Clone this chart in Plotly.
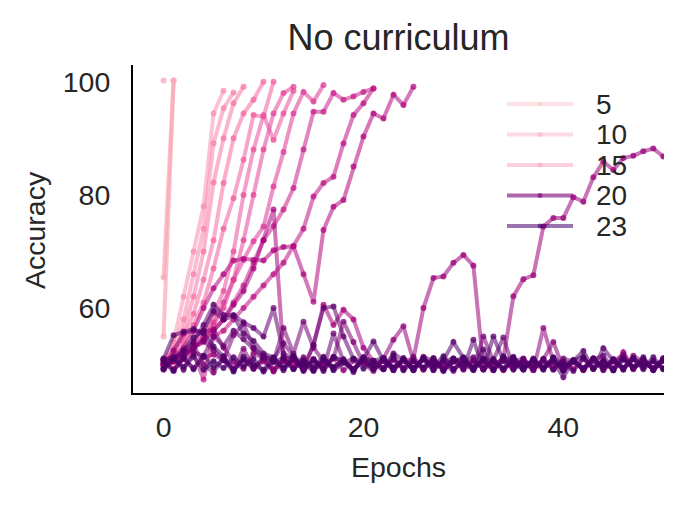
import plotly.graph_objects as go

# accuracy per epoch (list index = epoch), one list per training run
run_a = [55.0, 100.2]
run_b = [65.4, 100.2]
run_c = [100.2]
run_p1 = [50.5, 54.0, 62.0, 70.0, 78.0, 94.4, 98.4]
run_p2 = [49.8, 53.0, 58.0, 66.0, 74.0, 89.1, 95.3, 98.1]
run_p3 = [50.2, 52.0, 56.0, 62.0, 70.0, 82.2, 90.0, 96.2, 99.1]
run_p4 = [51.0, 52.5, 55.0, 59.0, 65.0, 72.0, 82.1, 90.0, 94.4, 96.8, 100.0]
run_p5 = [50.0, 51.5, 54.0, 57.0, 61.0, 67.0, 74.0, 79.4, 86.2, 94.1, 93.8, 100.0]
run_p6 = [50.0, 51.0, 52.0, 54.0, 56.0, 59.0, 63.0, 70.0, 80.0, 88.0, 94.1, 89.7, 94.4, 98.4]
run_p7 = [50.3, 50.8, 52.0, 53.0, 55.0, 57.0, 60.0, 65.0, 72.0, 80.0, 88.0, 94.4, 98.0, 99.1]
run_l1 = [50.0, 50.5, 51.5, 53.0, 55.0, 57.5, 61.0, 65.0, 68.5, 71.8, 74.4, 81.5, 87.6,
          94.4, 98.2, 96.5, 99.4]
run_l2 = [50.0, 51.0, 52.0, 53.0, 54.0, 56.0, 58.0, 61.0, 64.0, 68.0, 72.0, 74.5, 77.4,
          81.2, 88.0, 94.7, 94.7, 98.0, 96.8, 97.4, 98.2, 98.8]
run_l3 = [50.0, 50.5, 51.0, 52.0, 47.4, 55.0, 56.0, 58.0, 60.0, 62.0, 64.0, 66.0, 68.0,
          71.0, 74.0, 79.7, 82.1, 83.2, 89.1, 94.1, 96.2, 98.8]
run_hump = [50.0, 51.5, 53.0, 56.0, 60.0, 63.5, 66.0, 68.4, 68.7, 68.5, 68.4, 70.2, 70.8,
            70.9, 66.0, 61.1, 73.8, 77.9, 79.1, 85.0, 90.3, 94.4, 93.5, 97.7, 95.9, 99.1]
run_spike = [50.0, 50.6, 51.5, 53.0, 54.5, 56.0, 58.0, 60.6, 63.0, 67.0, 72.0, 77.4, 51.5,
             50.3, 49.3, 53.5, 60.6, 57.0, 59.7, 58.0, 53.0, 50.6, 49.4, 50.9, 49.2, 50.7,
             49.3, 51.0, 49.1, 50.6, 50.9, 49.4, 50.8, 49.2, 51.0, 49.3, 50.7, 49.1, 50.9,
             49.4, 50.6, 49.2, 51.1, 49.3, 50.8, 49.0, 52.2, 49.4, 50.7, 49.2, 50.9, 49.3]
run_long = [50.7, 49.2, 51.0, 49.4, 51.3, 51.8, 50.8, 49.1, 50.9, 49.3, 50.6, 49.0, 51.1,
            49.4, 50.8, 49.2, 50.7, 49.3, 51.0, 49.1, 50.8, 49.4, 51.2, 49.1, 50.7, 51.0,
            60.0, 65.3, 65.6, 68.0, 69.4, 67.5, 49.4, 50.0, 51.0, 62.1, 65.1, 65.8, 74.4,
            75.9, 75.9, 79.6, 78.8, 83.1, 85.9, 84.4, 86.5, 86.9, 87.7, 88.2, 86.8, 86.0]
run_m2 = [49.4, 52.5, 55.5, 56.0, 55.8, 56.2, 53.0, 50.5, 49.3, 52.0, 51.1, 49.2, 50.8,
          51.5, 49.1, 50.9, 49.4, 51.2, 49.0, 50.7, 50.5, 49.3, 51.1, 54.4, 56.8, 50.6,
          49.2, 51.0, 49.4, 50.8, 49.1, 50.7, 49.3, 50.9, 49.2, 50.6, 51.1, 49.0, 56.5,
          50.5, 49.3, 50.8, 49.1, 50.7, 49.4, 51.0, 49.2, 51.6, 50.5, 49.3, 50.9, 49.1]
run_m3 = [50.9, 49.0, 51.2, 53.5, 50.1, 48.6, 51.4, 49.2, 52.8, 49.5, 51.0, 48.8, 50.6,
          49.3, 51.3, 49.0, 50.4, 51.1, 57.6, 54.0, 50.2, 48.9, 51.0, 49.4, 50.8, 49.1,
          51.2, 49.6, 50.3, 48.9, 51.0, 49.5, 50.7, 49.0, 51.3, 49.4, 50.5, 49.1, 51.0,
          54.0, 49.3, 50.8, 49.0, 51.1, 49.5, 50.6, 51.8, 49.2, 50.9, 49.4, 51.2, 49.0]
run_f5 = [49.1, 50.9, 51.8, 53.0, 54.2, 52.6, 50.8, 55.2, 57.2, 53.0, 51.2, 50.5, 56.5,
          52.0, 57.6, 53.0, 50.6, 49.4, 50.8, 49.1, 51.3, 50.7, 49.2, 50.9, 49.4, 51.4,
          49.1, 50.8, 49.3, 51.0, 50.5, 49.2, 55.0, 50.6, 49.0, 50.9, 49.4, 51.1, 49.3,
          50.7, 49.1, 50.8, 49.4, 51.0, 49.2, 50.6, 51.2, 49.3, 50.9, 49.1, 50.7, 49.4]
run_f4 = [50.8, 51.4, 49.1, 52.2, 51.5, 55.0, 53.3, 56.0, 54.5, 52.8, 51.6, 50.9, 53.8,
          51.5, 49.2, 51.0, 49.3, 55.5, 50.6, 49.1, 51.2, 50.5, 49.3, 52.0, 50.8, 49.0,
          51.1, 49.4, 50.9, 49.2, 50.7, 51.3, 49.1, 50.8, 54.8, 49.4, 51.0, 49.3, 50.6,
          49.1, 51.1, 50.5, 49.2, 50.9, 51.6, 49.3, 51.5, 49.4, 50.8, 49.1, 51.0, 50.5]
run_f3 = [49.3, 51.2, 52.5, 54.0, 57.0, 60.6, 58.8, 58.8, 57.5, 56.5, 55.0, 60.0, 52.0,
          51.0, 49.4, 53.5, 60.0, 60.3, 55.0, 51.0, 50.7, 49.2, 51.1, 49.3, 50.9, 49.1,
          51.4, 50.6, 49.0, 51.1, 49.4, 50.8, 49.2, 51.0, 49.3, 50.7, 49.1, 50.9, 49.4,
          50.5, 47.8, 50.6, 49.3, 51.1, 49.0, 50.8, 49.4, 51.0, 49.2, 50.7, 49.3, 50.9]
run_f6 = [50.9, 51.0, 52.5, 54.8, 56.0, 59.5, 58.0, 58.6, 55.5, 54.2, 52.0, 51.3, 49.4,
          51.0, 48.9, 50.8, 49.2, 51.4, 50.6, 49.1, 51.0, 49.3, 50.7, 49.0, 51.2, 49.4,
          50.9, 49.1, 50.6, 51.1, 49.3, 54.4, 49.2, 55.0, 50.7, 49.1, 50.8, 49.4, 51.0,
          49.2, 50.5, 48.9, 51.1, 49.3, 50.7, 49.0, 50.9, 49.4, 50.6, 49.2, 51.0, 50.5]
run_f2 = [51.1, 55.2, 55.8, 56.3, 55.5, 53.2, 51.5, 49.1, 50.9, 49.3, 51.4, 50.7, 49.0,
          51.2, 49.4, 50.8, 48.9, 51.3, 50.6, 49.2, 51.0, 54.1, 50.7, 49.1, 50.9, 49.4,
          51.1, 49.0, 50.8, 54.0, 51.2, 49.3, 52.7, 49.1, 50.7, 51.4, 49.2, 50.8, 49.4,
          51.0, 48.9, 50.6, 52.4, 49.3, 52.9, 50.7, 49.1, 51.0, 49.4, 51.3, 49.2, 50.8]
run_f1 = [50.4, 48.9, 51.3, 49.2, 51.6, 49.5, 50.9, 48.8, 51.4, 50.0, 49.1, 51.2, 49.4,
          51.5, 50.2, 48.9, 51.1, 49.6, 50.8, 48.7, 51.3, 49.9, 49.2, 51.6, 49.0, 50.7,
          49.5, 51.2, 48.9, 50.5, 51.3, 49.3, 51.0, 49.1, 51.5, 50.1, 49.2, 50.9, 49.5,
          51.2, 49.0, 50.7, 51.4, 49.3, 50.6, 49.1, 51.0, 49.6, 51.3, 49.0, 50.8, 50.2]
run_f7 = [49.3, 51.0, 49.6, 51.4, 49.1, 50.6, 49.4, 51.3, 49.7, 51.0, 48.8, 50.5, 51.2,
          49.2, 50.8, 49.6, 51.4, 49.0, 50.3, 51.1, 49.3, 50.7, 51.2, 49.5, 50.9, 49.1,
          51.0, 49.8, 51.5, 49.2, 50.4, 49.0, 51.1, 50.6, 49.3, 51.2, 49.7, 50.4, 49.1,
          51.3, 49.9, 50.8, 49.2, 51.1, 49.6, 50.9, 49.4, 51.2, 49.8, 50.6, 49.3, 51.0]

runs = [run_a, run_b, run_c, run_p1, run_p2, run_p3, run_p4, run_p5, run_p6, run_p7,
        run_l1, run_l2, run_l3, run_hump, run_spike, run_long, run_m2, run_m3,
        run_f5, run_f4, run_f3, run_f6, run_f2, run_f1, run_f7]
hues = [1, 1, 1, 3, 4, 5, 6, 7, 8, 9,
        10, 12, 13, 14, 15, 16, 17, 18,
        19, 20, 21, 22, 22, 23, 23]

legend_labels = ["5", "10", "15", "20", "23"]
legend_colors = [(251, 185, 190), (250, 165, 185), (248, 150, 180), (122, 1, 119), (73, 0, 106)]
legend_alpha = [0.4, 0.42, 0.45, 0.6, 0.55]

# RdPu anchors
RDPU = [(255, 247, 243), (253, 224, 221), (252, 197, 192), (250, 159, 181), (247, 104, 161),
        (221, 52, 151), (174, 1, 126), (122, 1, 119), (73, 0, 106)]
TEXT = "#262626"
FONT = "Liberation Sans, Arial, sans-serif"

# plot area in pixels (matches the reference)
L, R, T, B = 133, 664, 65, 393
W, H = 686, 506


def hue_rgb(h):
    t = 0.35 + 0.65 * (h - 1) / 22
    pos = t * (len(RDPU) - 1)
    i = min(int(pos), len(RDPU) - 2)
    f = pos - i
    c0, c1 = RDPU[i], RDPU[i + 1]
    return tuple(int(round(c0[k] + (c1[k] - c0[k]) * f)) for k in range(3))


def px_x(x):
    return (x - L) / (R - L)


def px_y(y):
    return (B - y) / (B - T)


fig = go.Figure()

for vals, h in zip(runs, hues):
    r, g, b = hue_rgb(h)
    a = 0.7 if h == 1 else 0.55
    fig.add_trace(go.Scatter(
        x=list(range(len(vals))), y=vals, mode="lines+markers",
        line=dict(color=f"rgba({r},{g},{b},{a})", width=4),
        marker=dict(color=f"rgba({r},{g},{b},0.75)", size=6, line=dict(width=0)),
        showlegend=False, hoverinfo="skip",
    ))

# legend drawn by hand (line + dot + label)
shapes = []
annotations = []
for i, (lab, c, a) in enumerate(zip(legend_labels, legend_colors, legend_alpha)):
    yp = px_y(104 + i * 30.5)
    col = f"rgba({c[0]},{c[1]},{c[2]},{a})"
    shapes.append(dict(type="line", xref="paper", yref="paper", x0=px_x(507), x1=px_x(573),
                       y0=yp, y1=yp, line=dict(color=col, width=4), layer="above"))
    shapes.append(dict(type="circle", xref="paper", yref="paper",
                       x0=px_x(537.5), x1=px_x(542.5), y0=yp - 2.5 / (B - T), y1=yp + 2.5 / (B - T),
                       fillcolor=col, line=dict(width=0), layer="above"))
    annotations.append(dict(text=lab, xref="paper", yref="paper", x=px_x(594), y=yp,
                            xanchor="left", yanchor="middle", showarrow=False,
                            font=dict(size=28, color=TEXT, family=FONT)))

# axis titles
annotations.append(dict(text="Epochs", xref="paper", yref="paper", x=0.5, y=px_y(467),
                        xanchor="center", yanchor="middle", showarrow=False,
                        font=dict(size=28.5, color=TEXT, family=FONT)))
annotations.append(dict(text="Accuracy", xref="paper", yref="paper", x=px_x(35), y=px_y(230),
                        xanchor="center", yanchor="middle", showarrow=False, textangle=-90,
                        font=dict(size=28.5, color=TEXT, family=FONT)))

fig.update_layout(
    width=W, height=H,
    margin=dict(l=L, r=W - R, t=T, b=H - B),
    paper_bgcolor="white", plot_bgcolor="white",
    font=dict(family=FONT, size=28.5, color=TEXT),
    title=dict(text="No curriculum", x=0.5, xref="paper", y=1 - 37 / H, yref="container",
               xanchor="center", yanchor="middle", font=dict(size=36, color=TEXT)),
    shapes=shapes, annotations=annotations,
)
fig.update_xaxes(range=[-3.06, 50.07], tickvals=[0, 20, 40], showgrid=False, zeroline=False,
                 showline=True, linecolor="black", linewidth=2, automargin=False,
                 ticks="outside", ticklen=8, tickcolor="rgba(0,0,0,0)")
fig.update_yaxes(range=[45.0, 102.95], tickvals=[60, 80, 100], showgrid=False, zeroline=False,
                 showline=True, linecolor="black", linewidth=2, automargin=False,
                 ticks="outside", ticklen=15, tickcolor="rgba(0,0,0,0)")

# the page body has a default 8px margin, drop it so the figure sits at (0, 0)
fig.write_html("out.html", config={"displayModeBar": False},
               post_script="document.body.style.margin = '0';")
